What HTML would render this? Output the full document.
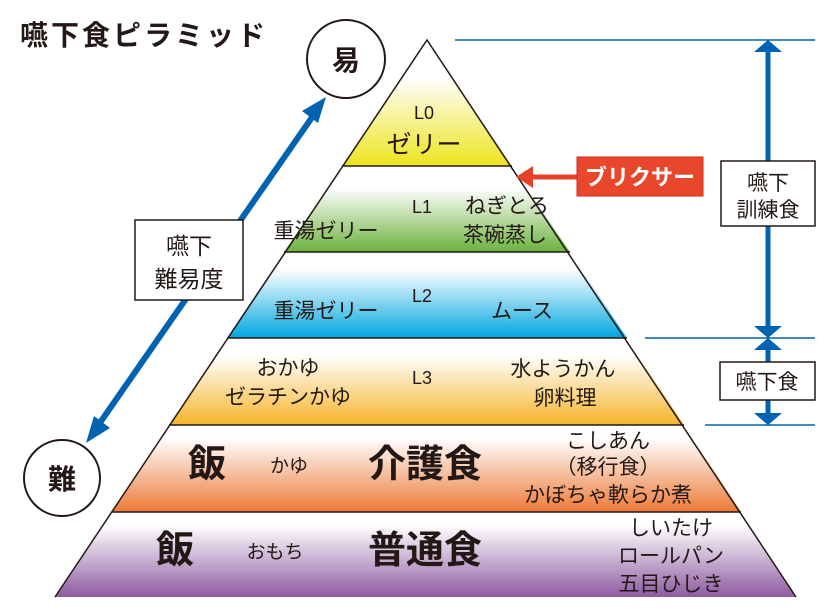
<!DOCTYPE html>
<html><head><meta charset="utf-8"><style>
html,body{margin:0;padding:0;background:#fff;}
svg{display:block;font-family:"Liberation Sans","Noto Sans CJK JP",sans-serif;}
</style></head><body>
<svg width="834" height="613" viewBox="0 0 834 613" xmlns="http://www.w3.org/2000/svg">
<defs>
<linearGradient id="g0" x1="0" y1="0" x2="0" y2="1"><stop offset="0.3" stop-color="#fff"/><stop offset="1" stop-color="#ece41c"/></linearGradient>
<linearGradient id="g1" x1="0" y1="0" x2="0" y2="1"><stop offset="0.25" stop-color="#fff"/><stop offset="1" stop-color="#6cb23e"/></linearGradient>
<linearGradient id="g2" x1="0" y1="0" x2="0" y2="1"><stop offset="0.2" stop-color="#fff"/><stop offset="1" stop-color="#00a6df"/></linearGradient>
<linearGradient id="g3" x1="0" y1="0" x2="0" y2="1"><stop offset="0.2" stop-color="#fff"/><stop offset="1" stop-color="#f6b42a"/></linearGradient>
<linearGradient id="g4" x1="0" y1="0" x2="0" y2="1"><stop offset="0.15" stop-color="#fff"/><stop offset="1" stop-color="#ec7a37"/></linearGradient>
<linearGradient id="g5" x1="0" y1="0" x2="0" y2="1"><stop offset="0.15" stop-color="#fff"/><stop offset="1" stop-color="#8d5ba1"/></linearGradient>
</defs>
<text x="20" y="45" font-size="28" font-weight="bold" fill="#231815" letter-spacing="3">嚥下食ピラミッド</text>

<polygon points="427,40 342,166 512,166" fill="url(#g0)"/>
<polygon points="342,166 512,166 570,252 284,252" fill="url(#g1)"/>
<polygon points="284,252 570,252 627,338 227,338" fill="url(#g2)"/>
<polygon points="227,338 627,338 684,425 169,425" fill="url(#g3)"/>
<polygon points="169,425 684,425 741,512 112,512" fill="url(#g4)"/>
<polygon points="112,512 741,512 796,597 55,597" fill="url(#g5)"/>
<g stroke="#231815" stroke-width="1.5" fill="none">
<polyline points="55,597 427,40 796,597"/>
<line x1="342" y1="166" x2="512" y2="166"/>
<line x1="284" y1="252" x2="570" y2="252"/>
<line x1="227" y1="338" x2="627" y2="338"/>
<line x1="169" y1="425" x2="684" y2="425"/>
<line x1="112" y1="512" x2="741" y2="512"/>
</g>

<g fill="#231815" text-anchor="middle">
<text x="424" y="119" font-size="18">L0</text>
<text x="424" y="153" font-size="25">ゼリー</text>
<text x="422" y="213" font-size="18">L1</text>
<text x="326" y="238" font-size="21">重湯ゼリー</text>
<text x="507" y="213" font-size="21">ねぎとろ</text>
<text x="505" y="242" font-size="21">茶碗蒸し</text>
<text x="422" y="302" font-size="18">L2</text>
<text x="326" y="318" font-size="21">重湯ゼリー</text>
<text x="522" y="318" font-size="21">ムース</text>
<text x="288" y="375" font-size="21">おかゆ</text>
<text x="288" y="404" font-size="21">ゼラチンかゆ</text>
<text x="422" y="384" font-size="18">L3</text>
<text x="563" y="376" font-size="21">水ようかん</text>
<text x="565" y="405" font-size="21">卵料理</text>
<text x="207" y="477" font-size="38" font-weight="bold">飯</text>
<text x="289" y="472" font-size="19">かゆ</text>
<text x="425" y="477" font-size="38" font-weight="bold">介護食</text>
<text x="608" y="448" font-size="21">こしあん</text>
<text x="608" y="474" font-size="21">（移行食）</text>
<text x="608" y="502" font-size="21">かぼちゃ軟らか煮</text>
<text x="175" y="563" font-size="38" font-weight="bold">飯</text>
<text x="275" y="558" font-size="19">おもち</text>
<text x="425" y="563" font-size="38" font-weight="bold">普通食</text>
<text x="671" y="535" font-size="21">しいたけ</text>
<text x="671" y="563" font-size="21">ロールパン</text>
<text x="671" y="591" font-size="21">五目ひじき</text>
</g>

<circle cx="346" cy="59" r="39" fill="#fff" stroke="#231815" stroke-width="2"/>
<text x="346" y="70" font-size="28" font-weight="bold" text-anchor="middle" fill="#231815">易</text>
<circle cx="62" cy="478" r="38" fill="#fff" stroke="#231815" stroke-width="2"/>
<text x="62" y="489" font-size="28" font-weight="bold" text-anchor="middle" fill="#231815">難</text>

<line x1="97" y1="427" x2="315" y2="113" stroke="#0063b1" stroke-width="6"/>
<polygon points="326,97 302,111 318,123" fill="#0063b1"/>
<polygon points="86,443 94,416 110,428" fill="#0063b1"/>
<rect x="135" y="220" width="108" height="80" fill="#fff" stroke="#231815" stroke-width="1.5"/>
<text x="189" y="254" font-size="23" text-anchor="middle" fill="#231815">嚥下</text>
<text x="189" y="287" font-size="23" text-anchor="middle" fill="#231815">難易度</text>

<g stroke="#0063b1" stroke-width="1.5">
<line x1="455" y1="40" x2="815" y2="40"/>
<line x1="645" y1="338" x2="815" y2="338"/>
<line x1="705" y1="425" x2="815" y2="425"/>
</g>
<line x1="768" y1="52" x2="768" y2="326" stroke="#0063b1" stroke-width="5"/>
<polygon points="768,40 754,52 782,52" fill="#0063b1"/>
<polygon points="768,338 754,326 782,326" fill="#0063b1"/>
<line x1="768" y1="350" x2="768" y2="413" stroke="#0063b1" stroke-width="5"/>
<polygon points="768,338 754,350 782,350" fill="#0063b1"/>
<polygon points="768,425 754,413 782,413" fill="#0063b1"/>
<rect x="721" y="161" width="94" height="65" fill="#fff" stroke="#231815" stroke-width="1.5"/>
<text x="768" y="190" font-size="21" text-anchor="middle" fill="#231815">嚥下</text>
<text x="768" y="217" font-size="21" text-anchor="middle" fill="#231815">訓練食</text>
<rect x="720" y="362" width="95" height="38" fill="#fff" stroke="#231815" stroke-width="1.5"/>
<text x="767" y="389" font-size="21" text-anchor="middle" fill="#231815">嚥下食</text>

<line x1="528" y1="177" x2="578" y2="177" stroke="#e8412a" stroke-width="5"/>
<polygon points="516,177 533,166 533,188" fill="#e8412a"/>
<rect x="577" y="157" width="126" height="39" fill="#e8472b" stroke="#d9261c" stroke-width="1"/>
<text x="640" y="185" font-size="22" font-weight="bold" text-anchor="middle" fill="#fff">ブリクサー</text>
</svg>
</body></html>
